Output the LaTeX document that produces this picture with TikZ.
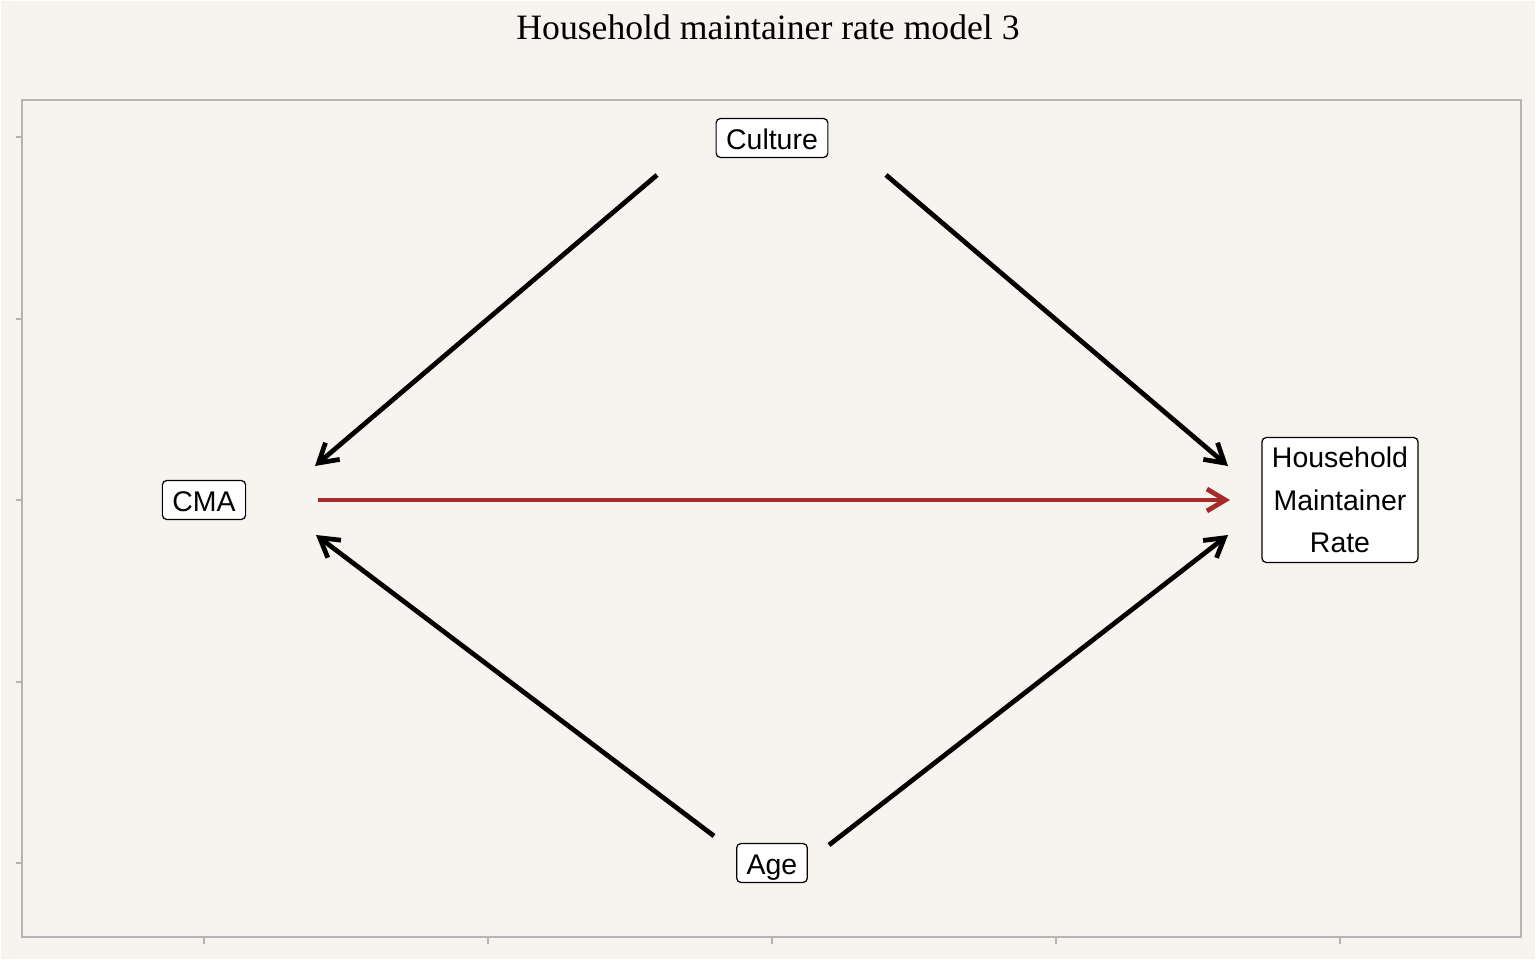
\documentclass[tikz,border=0pt]{standalone}
\usepackage{fontspec}
\setmainfont{Liberation Serif}
\newfontfamily\labelfont{Liberation Sans}
\usetikzlibrary{arrows.meta, positioning, calc}
\definecolor{panelbg}{RGB}{247,244,239}
\definecolor{framegray}{RGB}{180,180,180}
\definecolor{brickred}{RGB}{165,42,42}

\begin{document}
\begin{tikzpicture}[x=0.02cm, y=-0.02cm,
  varbox/.style={draw, line width=0.7pt, fill=white, rounded corners=2.5pt, inner xsep=0.2cm, inner ysep=1pt, minimum height=0.78cm, font=\labelfont\fontsize{16.2}{24.2}\selectfont, align=center},
  onebox/.style={varbox, text height=16.5pt, text depth=3.5pt},
  edge/.style={-{Straight Barb[length=10.5pt, width=12.5pt]}, line width=2.7pt, black},
  causal/.style={edge, brickred}]
  \fill[white] (0,0) rectangle (1536,960);
  \fill[panelbg] (1.5,1.5) rectangle (1534.5,958.5);
  \useasboundingbox (0,0) rectangle (1536,960);

  \node[font=\fontsize{20.3}{24}\selectfont] (title) at (768,27) {Household maintainer rate model 3};

  % panel and ticks
  \draw[framegray, line width=0.85pt] (22,100) rectangle (1521,937);
  \foreach \ty in {137,319,500,682,863}
    \draw[framegray, line width=0.85pt] (16,\ty) -- (22,\ty);
  \foreach \tx in {204,488,772,1056,1340}
    \draw[framegray, line width=0.85pt] (\tx,937) -- (\tx,944);

  \node[onebox] (culture) at (772,138) {Culture};
  \node[onebox] (cma) at (204,500) {CMA};
  \node[onebox] (age) at (772,863) {Age};
  \node[varbox, minimum height=2.5cm] (hmr) at (1340,500) {Household\\Maintainer\\Rate};

  \coordinate (culture-l) at ($(culture)+(-115,37)$);
  \coordinate (culture-r) at ($(culture)+(114,37)$);
  \coordinate (age-l) at ($(age)+(-58,-27)$);
  \coordinate (age-r) at ($(age)+(57,-18)$);
  \coordinate (cma-top) at ($(cma)+(111,-34)$);
  \coordinate (cma-mid) at ($(cma)+(114,0)$);
  \coordinate (cma-bot) at ($(cma)+(112,35)$);
  \coordinate (hmr-top) at ($(hmr)+(-112,-34)$);
  \coordinate (hmr-mid) at ($(hmr)+(-110,0)$);
  \coordinate (hmr-bot) at ($(hmr)+(-112,35)$);

  \draw[edge] (culture-l) -- (cma-top);
  \draw[edge] (culture-r) -- (hmr-top);
  \draw[causal] (cma-mid) -- (hmr-mid);
  \draw[edge] (age-l) -- (cma-bot);
  \draw[edge] (age-r) -- (hmr-bot);
\end{tikzpicture}
\end{document}
